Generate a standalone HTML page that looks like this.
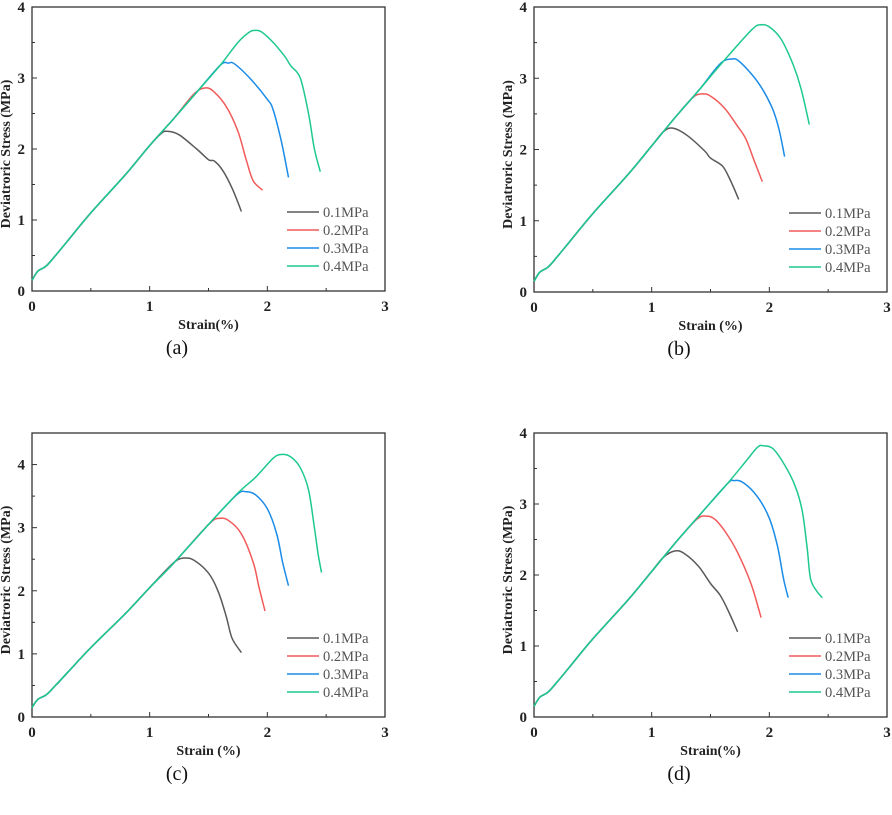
<!DOCTYPE html>
<html><head><meta charset="utf-8"><style>
html,body{margin:0;padding:0;background:#fff}
svg{display:block}
text{font-family:"Liberation Serif",serif}
</style></head><body>
<svg id="chart" width="892" height="815" viewBox="0 0 892 815" xmlns="http://www.w3.org/2000/svg"></svg>
<script>
const seriesNames = ["0.1MPa","0.2MPa","0.3MPa","0.4MPa"];
const seriesColors = ["#5a5a5a","#f25a5a","#1a8ce8","#1ec98c"];
const xTicks = [0,1,2,3];
const captions = ["(a)","(b)","(c)","(d)"];
const xTitles = ["Strain(%)","Strain (%)","Strain (%)","Strain(%)"];
const yMaxes = [4,4,4.5,4];
const yTicksA = [0,1,2,3,4];
const yTicksC = [0,1,2,3,4];
// elastic segments (strain, stress)
const elasticX = [0,0.05,0.12,0.2,0.3,0.5,0.8,1.0];
const elasticY = [0.15,0.28,0.35,0.5,0.7,1.1,1.65,2.05];
// panel a
const aGrayX=[1.1,1.15,1.25,1.4,1.5,1.55,1.62,1.7,1.78];
const aGrayY=[2.22,2.25,2.2,2.0,1.85,1.83,1.7,1.45,1.12];
const aRedX=[1.2,1.38,1.48,1.55,1.65,1.75,1.82,1.88,1.96];
const aRedY=[2.42,2.78,2.86,2.8,2.6,2.25,1.85,1.55,1.42];
const aBlueX=[1.2,1.4,1.6,1.67,1.72,1.85,2.0,2.05,2.12,2.18];
const aBlueY=[2.42,2.8,3.18,3.21,3.2,3.0,2.7,2.55,2.1,1.6];
const aGreenX=[1.2,1.4,1.6,1.75,1.85,1.9,1.95,2.05,2.15,2.2,2.28,2.35,2.4,2.45];
const aGreenY=[2.42,2.8,3.18,3.5,3.65,3.67,3.65,3.5,3.3,3.17,3.0,2.5,2.0,1.68];
// panel b
const bGrayX=[1.1,1.18,1.3,1.45,1.5,1.6,1.66,1.74];
const bGrayY=[2.25,2.3,2.2,1.98,1.88,1.77,1.6,1.3];
const bRedX=[1.2,1.35,1.43,1.5,1.62,1.72,1.8,1.87,1.94];
const bRedY=[2.45,2.73,2.78,2.75,2.58,2.35,2.15,1.85,1.55];
const bBlueX=[1.2,1.4,1.58,1.68,1.75,1.9,2.02,2.08,2.13];
const bBlueY=[2.45,2.83,3.2,3.27,3.23,2.95,2.6,2.3,1.9];
const bGreenX=[1.2,1.4,1.6,1.85,1.93,2.0,2.1,2.2,2.27,2.34];
const bGreenY=[2.45,2.83,3.22,3.68,3.75,3.72,3.55,3.2,2.85,2.35];
// panel c
const cGrayX=[1.1,1.22,1.3,1.38,1.5,1.58,1.65,1.7,1.78];
const cGrayY=[2.25,2.47,2.52,2.48,2.28,2.0,1.6,1.25,1.02];
const cRedX=[1.2,1.5,1.6,1.68,1.78,1.88,1.93,1.98];
const cRedY=[2.43,3.05,3.15,3.1,2.9,2.45,2.05,1.68];
const cBlueX=[1.2,1.5,1.74,1.82,1.9,2.0,2.08,2.13,2.18];
const cBlueY=[2.43,3.05,3.52,3.57,3.52,3.3,2.9,2.45,2.08];
const cGreenX=[1.2,1.5,1.75,1.9,2.05,2.12,2.2,2.28,2.35,2.4,2.43,2.46];
const cGreenY=[2.43,3.05,3.55,3.8,4.1,4.16,4.12,3.95,3.6,3.0,2.6,2.29];
// panel d
const dGrayX=[1.1,1.2,1.28,1.4,1.5,1.58,1.65,1.73];
const dGrayY=[2.25,2.34,2.3,2.12,1.88,1.72,1.5,1.2];
const dRedX=[1.2,1.38,1.46,1.54,1.65,1.75,1.85,1.93];
const dRedY=[2.45,2.78,2.83,2.78,2.55,2.25,1.85,1.4];
const dBlueX=[1.2,1.4,1.64,1.7,1.78,1.9,2.0,2.07,2.12,2.16];
const dBlueY=[2.45,2.83,3.28,3.33,3.3,3.1,2.8,2.4,1.95,1.68];
const dGreenX=[1.2,1.4,1.64,1.8,1.9,1.95,2.03,2.13,2.22,2.28,2.32,2.35,2.4,2.45];
const dGreenY=[2.45,2.83,3.28,3.6,3.8,3.82,3.78,3.55,3.25,2.9,2.4,1.95,1.78,1.68];

const panelSeries = [
 [[aGrayX,aGrayY],[aRedX,aRedY],[aBlueX,aBlueY],[aGreenX,aGreenY]],
 [[bGrayX,bGrayY],[bRedX,bRedY],[bBlueX,bBlueY],[bGreenX,bGreenY]],
 [[cGrayX,cGrayY],[cRedX,cRedY],[cBlueX,cBlueY],[cGreenX,cGreenY]],
 [[dGrayX,dGrayY],[dRedX,dRedY],[dBlueX,dBlueY],[dGreenX,dGreenY]]
];
const layout = [
 {x0:32,x3:385,y0:291,yTop:7},
 {x0:534,x3:887,y0:292,yTop:7},
 {x0:32,x3:385,y0:717,yTop:433},
 {x0:534,x3:887,y0:717,yTop:433}
];
const NS="http://www.w3.org/2000/svg";
const svg=document.getElementById('chart');
function mk(tag,attrs,parent){const e=document.createElementNS(NS,tag);for(const k in attrs)e.setAttribute(k,attrs[k]);(parent||svg).appendChild(e);return e;}
function smooth(pts){
  let d='M'+pts[0][0].toFixed(1)+','+pts[0][1].toFixed(1);
  for(let i=0;i<pts.length-1;i++){
    const p0=pts[i-1]||pts[i],p1=pts[i],p2=pts[i+1],p3=pts[i+2]||p2;
    const c1=[p1[0]+(p2[0]-p0[0])/6,p1[1]+(p2[1]-p0[1])/6];
    const c2=[p2[0]-(p3[0]-p1[0])/6,p2[1]-(p3[1]-p1[1])/6];
    d+='C'+c1.map(v=>v.toFixed(1)).join(',')+' '+c2.map(v=>v.toFixed(1)).join(',')+' '+p2.map(v=>v.toFixed(1)).join(',');
  }
  return d;
}
layout.forEach((L,p)=>{
  const g=mk('g',{});
  
  
  const ymax=yMaxes[p];
  const sx=v=>L.x0+(L.x3-L.x0)*v/3;
  const sy=v=>L.y0-(L.y0-L.yTop)*v/ymax;
  const box=mk('rect',{x:L.x0,y:L.yTop,width:L.x3-L.x0,height:L.y0-L.yTop,fill:'none',stroke:'#333','stroke-width':1.3},g);
  
  
  for(let v=0;v<=3;v+=0.5){mk('line',{x1:sx(v),x2:sx(v),y1:L.y0,y2:L.y0-(v%1?3:5),stroke:'#333','stroke-width':1},g);}
  for(let v=0;v<=ymax;v+=0.5){mk('line',{x1:L.x0,x2:L.x0+(v%1?3:5),y1:sy(v),y2:sy(v),stroke:'#333','stroke-width':1},g);}
  xTicks.forEach(v=>{const t=mk('text',{x:sx(v),y:L.y0+20,'text-anchor':'middle','font-size':15,'font-weight':'bold',fill:'#222'},g);t.textContent=v;
    });
  (p==2?yTicksC:yTicksA).forEach(v=>{const t=mk('text',{x:L.x0-7,y:sy(v)+5,'text-anchor':'end','font-size':15,'font-weight':'bold',fill:'#222'},g);t.textContent=v;
    });
  const xt=mk('text',{x:(L.x0+L.x3)/2,y:L.y0+38,'text-anchor':'middle','font-size':14,'font-weight':'bold',fill:'#222'},g);
  xt.textContent=xTitles[p];
  
  const cy=(L.y0+L.yTop)/2+5;
  const yt=mk('text',{x:L.x0-22,y:cy,'text-anchor':'middle','font-size':14,'font-weight':'bold',fill:'#222',transform:`rotate(-90 ${L.x0-22} ${cy})`},g);
  yt.textContent='Deviatroric Stress (MPa)';
  
  const cap=mk('text',{x:L.x0+145,y:L.y0+63,'text-anchor':'middle','font-size':20,fill:'#111'},g);
  cap.textContent=captions[p];
  
  panelSeries[p].forEach((s,i)=>{
    const xs=elasticX.concat(s[0]), ys=elasticY.concat(s[1]);
    const pts=xs.map((x,k)=>[sx(x),sy(ys[k])]);
    const path=mk('path',{d:smooth(pts),fill:'none',stroke:seriesColors[i],'stroke-width':1.5,'stroke-linejoin':'round'},g);
    
    
  });
  const ly0=L.y0-79;
  seriesNames.forEach((n,i)=>{
    const y=ly0+i*18;
    const ln=mk('line',{x1:L.x0+255,x2:L.x0+287,y1:y,y2:y,stroke:seriesColors[i],'stroke-width':1.5},g);
    
    const t=mk('text',{x:L.x0+291,y:y+5,'font-size':14.5,fill:'#555'},g);
    t.textContent=n;
    
  });
});
</script>
</body></html>
